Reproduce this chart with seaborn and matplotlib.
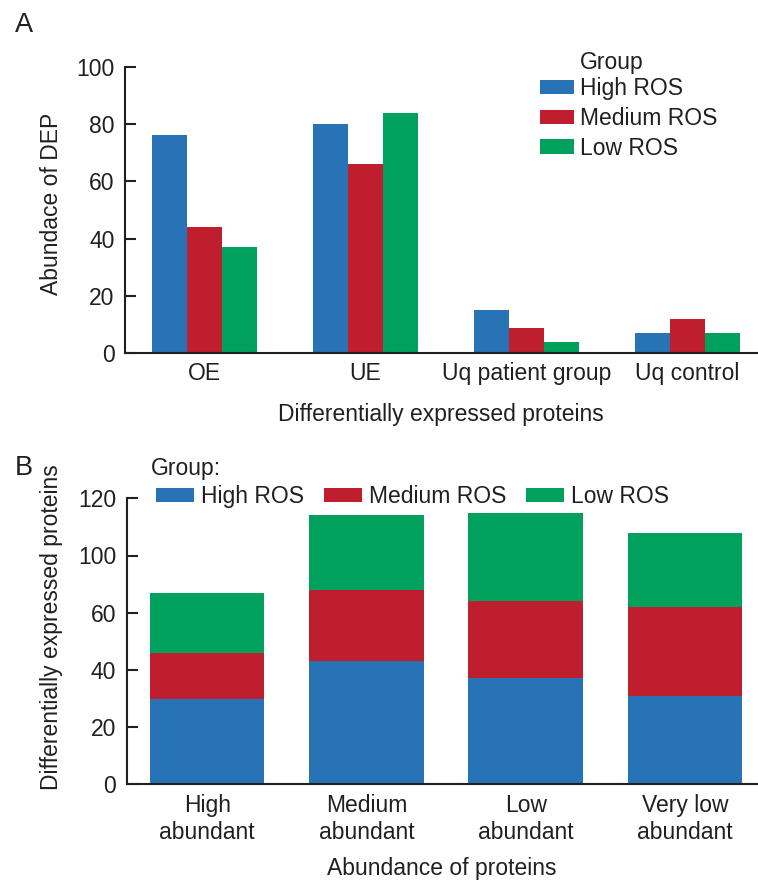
import numpy as np
import pandas as pd
import matplotlib
matplotlib.use("Agg")
import matplotlib.pyplot as plt
import seaborn as sns

# ---------------- data ----------------
groups = ["High ROS", "Medium ROS", "Low ROS"]

# Panel A
dep_categories = ["OE", "UE", "Uq patient group", "Uq control"]
high_ros_a = [76, 80, 15, 7]
medium_ros_a = [44, 66, 9, 12]
low_ros_a = [37, 84, 4, 7]
a_yticks = [0, 20, 40, 60, 80, 100]
a_yticklabels = ["0", "20", "40", "60", "80", "100"]

# Panel B (values in the axis' linear units)
abundance_categories = ["High\nabundant", "Medium\nabundant", "Low\nabundant", "Very low\nabundant"]
high_ros_b = [30, 43, 37, 31]
medium_ros_b = [16, 25, 27, 31]
low_ros_b = [21, 26, 31, 26]
b_yticks = [0, 20, 40, 60, 80, 100]
b_yticklabels = ["0", "20", "40", "60", "100", "120"]

colors = ["#2872b6", "#be1e2d", "#00a15c"]
ink = "#231f20"

# ---------------- style ----------------
sns.set_style("ticks")
plt.rcParams["font.family"] = ["Liberation Sans", "DejaVu Sans"]
plt.rcParams["text.color"] = ink
plt.rcParams["axes.labelcolor"] = ink
plt.rcParams["xtick.color"] = ink
plt.rcParams["ytick.color"] = ink
FS = 16.5

W, H = 758, 881
fig = plt.figure(figsize=(W / 100, H / 100), dpi=100)

def px_axes(left, top, right, bottom):
    return fig.add_axes([left / W, 1 - bottom / H, (right - left) / W, (bottom - top) / H])

axA = px_axes(125, 66.7, 757, 353.3)
axB = px_axes(126.7, 498.3, 757, 784.3)

# ---------------- panel A ----------------
df_a = pd.DataFrame({
    "category": dep_categories * 3,
    "group": [g for g in groups for _ in dep_categories],
    "value": high_ros_a + medium_ros_a + low_ros_a,
})
sns.barplot(data=df_a, x="category", y="value", hue="group", hue_order=groups,
            order=dep_categories, palette=colors, saturation=1, width=0.652,
            errorbar=None, linewidth=0, ax=axA)
legA = axA.get_legend()
handlesA = legA.legend_handles
labelsA = [t.get_text() for t in legA.get_texts()]
legA.remove()
axA.legend(handlesA, labelsA, loc="upper left", bbox_to_anchor=(540 / W, 1 - 77 / H),
           bbox_transform=fig.transFigure, frameon=False, fontsize=FS,
           borderpad=0, borderaxespad=0, handlelength=1.48, handleheight=0.6,
           handletextpad=0.26, labelspacing=0.3)
fig.text(580 / W, 1 - 68.5 / H, "Group", fontsize=FS, va="baseline", ha="left")

axA.set_ylim(0, 100)
axA.set_xlim(-0.494, 3.431)
axA.set_yticks(a_yticks)
axA.set_yticklabels(a_yticklabels)
axA.set_xlabel("Differentially expressed proteins", fontsize=FS)
axA.set_ylabel("Abundace of DEP", fontsize=FS)
axA.xaxis.set_label_coords(0.5, (353.3 - 403) / 286.6)
axA.yaxis.set_label_coords((63 - 125) / 632, 0.521)

# ---------------- panel B ----------------
cum_hm = [h + m for h, m in zip(high_ros_b, medium_ros_b)]
cum_total = [c + l for c, l in zip(cum_hm, low_ros_b)]
sns.barplot(x=abundance_categories, y=cum_total, color=colors[2], saturation=1, width=0.72,
            errorbar=None, linewidth=0, ax=axB, label=groups[2])
sns.barplot(x=abundance_categories, y=cum_hm, color=colors[1], saturation=1, width=0.72,
            errorbar=None, linewidth=0, ax=axB, label=groups[1])
sns.barplot(x=abundance_categories, y=high_ros_b, color=colors[0], saturation=1, width=0.72,
            errorbar=None, linewidth=0, ax=axB, label=groups[0])
hB, lB = axB.get_legend_handles_labels()
order = [lB.index(g) for g in groups]
if axB.get_legend() is not None:
    axB.get_legend().remove()
axB.legend([hB[i] for i in order], [lB[i] for i in order], loc="upper left", ncol=3,
           bbox_to_anchor=(156 / W, 1 - 485 / H), bbox_transform=fig.transFigure,
           frameon=False, fontsize=FS, borderpad=0, borderaxespad=0,
           handlelength=1.65, handleheight=0.57, handletextpad=0.33, columnspacing=0.85)
fig.text(150.7 / W, 1 - 475.5 / H, "Group:", fontsize=FS, va="baseline", ha="left")

axB.set_ylim(0, 100)
axB.set_xlim(-0.505, 3.452)
axB.set_yticks(b_yticks)
axB.set_yticklabels(b_yticklabels)
axB.set_xlabel("Abundance of proteins", fontsize=FS)
axB.set_ylabel("Differentially expressed proteins", fontsize=FS)
axB.xaxis.set_label_coords(0.5, (784.3 - 857) / 286)
axB.yaxis.set_label_coords((63 - 126.7) / 630.3, 0.548)

# ---------------- common axis styling ----------------
for ax in (axA, axB):
    sns.despine(ax=ax)
    for s in ("left", "bottom"):
        ax.spines[s].set_linewidth(1.5)
        ax.spines[s].set_color(ink)
    ax.tick_params(axis="y", direction="in", length=8, width=1.5, pad=7.5, labelsize=FS)
    ax.tick_params(axis="x", length=0, labelsize=FS)
axA.tick_params(axis="x", pad=6)
axB.tick_params(axis="x", pad=7)

fig.text(15 / W, 1 - 32 / H, "A", fontsize=19.5, va="baseline", ha="left")
fig.text(15 / W, 1 - 475 / H, "B", fontsize=19.5, va="baseline", ha="left")

fig.savefig("out.png", dpi=100)
